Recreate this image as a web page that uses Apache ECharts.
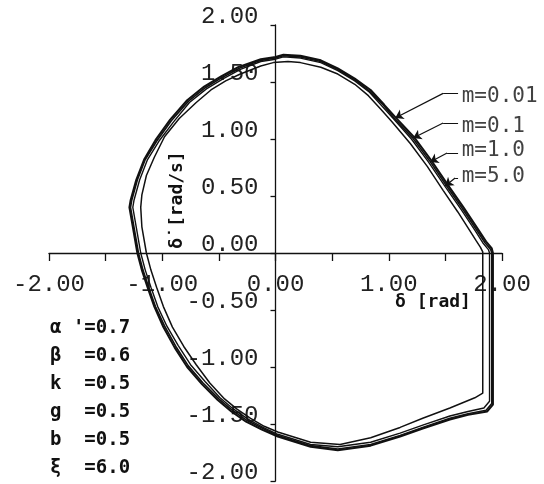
<!DOCTYPE html>
<html>
<head>
<meta charset="utf-8">
<script src="https://cdn.jsdelivr.net/npm/echarts@6/dist/echarts.min.js"></script>
<style>
  html, body { margin: 0; padding: 0; background: #fff; }
  #chart { width: 544px; height: 484px; }
</style>
</head>
<body>
<div id="chart"></div>
<script>
// tick labels shown on each axis
const xLabelTicks = [-2, -1, 0, 1, 2]
const yLabelTicks = [-2, -1.5, -1, -0.5, 0, 0.5, 1, 1.5, 2]

// phase-plane trajectories [delta, delta-dot]
const m001 = [[0.00,1.72],[0.07,1.74],[0.22,1.73],[0.40,1.69],[0.55,1.62],[0.70,1.53],[0.84,1.43],[0.96,1.30],[1.06,1.19],[1.22,1.02],[1.37,0.82],[1.52,0.60],[1.66,0.40],[1.78,0.22],[1.86,0.10],[1.91,0.04],[1.92,0.00],[1.92,-1.33],[1.87,-1.39],[1.70,-1.42],[1.54,-1.46],[1.30,-1.54],[1.10,-1.61],[0.84,-1.69],[0.55,-1.73],[0.31,-1.70],[0.02,-1.61],[-0.12,-1.55],[-0.26,-1.48],[-0.39,-1.39],[-0.51,-1.29],[-0.65,-1.15],[-0.78,-1.00],[-0.89,-0.83],[-0.99,-0.65],[-1.07,-0.47],[-1.13,-0.30],[-1.18,-0.15],[-1.22,0.00],[-1.26,0.23],[-1.29,0.40],[-1.28,0.46],[-1.23,0.64],[-1.16,0.82],[-1.06,0.99],[-0.93,1.17],[-0.78,1.34],[-0.63,1.46],[-0.48,1.55],[-0.33,1.63],[-0.13,1.70],[0.00,1.72]]
const m01 = [[0.00,1.71],[0.07,1.73],[0.22,1.72],[0.40,1.68],[0.55,1.61],[0.70,1.52],[0.83,1.42],[0.95,1.30],[1.05,1.18],[1.21,1.01],[1.36,0.81],[1.51,0.59],[1.65,0.39],[1.77,0.21],[1.85,0.09],[1.90,0.03],[1.91,0.00],[1.91,-1.32],[1.86,-1.38],[1.70,-1.41],[1.54,-1.45],[1.30,-1.53],[1.10,-1.60],[0.84,-1.68],[0.55,-1.72],[0.31,-1.69],[0.02,-1.60],[-0.11,-1.54],[-0.25,-1.47],[-0.38,-1.38],[-0.50,-1.28],[-0.64,-1.14],[-0.77,-0.99],[-0.88,-0.82],[-0.98,-0.64],[-1.06,-0.47],[-1.12,-0.30],[-1.17,-0.15],[-1.21,0.00],[-1.25,0.23],[-1.28,0.40],[-1.27,0.46],[-1.22,0.64],[-1.15,0.82],[-1.05,0.98],[-0.92,1.16],[-0.77,1.33],[-0.62,1.45],[-0.47,1.54],[-0.32,1.62],[-0.13,1.69],[0.00,1.71]]
const m10 = [[0.00,1.70],[0.07,1.72],[0.22,1.71],[0.40,1.67],[0.55,1.60],[0.70,1.51],[0.83,1.41],[0.94,1.29],[1.04,1.18],[1.20,1.00],[1.35,0.80],[1.50,0.58],[1.64,0.38],[1.76,0.20],[1.83,0.09],[1.88,0.03],[1.89,0.00],[1.89,-1.30],[1.84,-1.36],[1.70,-1.39],[1.54,-1.43],[1.30,-1.51],[1.10,-1.58],[0.84,-1.66],[0.55,-1.70],[0.31,-1.68],[0.02,-1.59],[-0.11,-1.53],[-0.24,-1.46],[-0.37,-1.37],[-0.49,-1.27],[-0.62,-1.13],[-0.75,-0.98],[-0.86,-0.81],[-0.96,-0.64],[-1.04,-0.47],[-1.10,-0.30],[-1.15,-0.15],[-1.19,0.00],[-1.23,0.23],[-1.26,0.40],[-1.25,0.46],[-1.20,0.64],[-1.13,0.82],[-1.03,0.98],[-0.90,1.15],[-0.76,1.32],[-0.61,1.44],[-0.46,1.53],[-0.31,1.61],[-0.13,1.68],[0.00,1.70]]
const m50 = [[-0.02,1.67],[0.11,1.68],[0.22,1.67],[0.40,1.63],[0.55,1.57],[0.70,1.48],[0.82,1.38],[0.93,1.26],[1.03,1.15],[1.19,0.96],[1.34,0.76],[1.48,0.55],[1.61,0.36],[1.70,0.22],[1.77,0.11],[1.81,0.05],[1.83,0.01],[1.83,-1.23],[1.76,-1.27],[1.54,-1.36],[1.30,-1.45],[1.10,-1.53],[0.84,-1.62],[0.57,-1.68],[0.31,-1.66],[0.02,-1.57],[-0.10,-1.52],[-0.22,-1.45],[-0.34,-1.37],[-0.45,-1.28],[-0.58,-1.14],[-0.70,-0.98],[-0.81,-0.82],[-0.91,-0.65],[-0.99,-0.47],[-1.05,-0.30],[-1.10,-0.15],[-1.14,0.00],[-1.18,0.23],[-1.19,0.40],[-1.18,0.51],[-1.14,0.68],[-1.07,0.84],[-0.98,1.02],[-0.85,1.18],[-0.70,1.32],[-0.57,1.43],[-0.44,1.51],[-0.31,1.57],[-0.13,1.64],[-0.02,1.67]]

// callouts: label, label anchor, elbow, arrow tip
const calloutNames = ['m=0.01', 'm=0.1', 'm=1.0', 'm=5.0']
const calloutText = [[1.64,1.37],[1.64,1.105],[1.64,0.90],[1.64,0.667]]
const calloutElbow = [[1.48,1.40],[1.48,1.14],[1.515,0.877],[1.586,0.658]]
const calloutEnd = [[1.612,1.40],[1.612,1.14],[1.612,0.877],[1.612,0.658]]
const calloutTip = [[1.057,1.184],[1.216,1.009],[1.366,0.798],[1.498,0.588]]

// parameter block
const paramLines = ["α '=0.7", 'β  =0.6', 'k  =0.5', 'g  =0.5', 'b  =0.5', 'ξ  =6.0']

const INK = '#111'
const tickFont = '"Liberation Mono", "DejaVu Sans Mono", monospace'
const boldFont = '"DejaVu Sans Mono", monospace'

// grid: 453 x 456 px, axes moved to cross at the origin
const GRID = { left: 49, right: 42, top: 25, bottom: 3 }
const gridW = 544 - GRID.left - GRID.right
const gridH = 484 - GRID.top - GRID.bottom

const chart = echarts.init(document.getElementById('chart'), null, { renderer: 'canvas' })

function curve(name, data, width) {
  return {
    name: name,
    type: 'line',
    data: data,
    symbol: 'none',
    showSymbol: false,
    lineStyle: { color: INK, width: width },
    silent: true
  }
}

chart.setOption({
  animation: false,
  backgroundColor: '#fff',
  grid: Object.assign({ containLabel: false, outerBoundsMode: 'none' }, GRID),
  xAxis: {
    type: 'value',
    min: -2, max: 2, interval: 0.5,
    offset: -gridH / 2,
    axisLine: { onZero: false, lineStyle: { color: INK, width: 1.3 } },
    axisTick: { show: true, length: 8, lineStyle: { color: INK, width: 1.3 } },
    axisLabel: {
      margin: 20,
      fontFamily: tickFont,
      fontSize: 24,
      color: '#222',
      formatter: v => xLabelTicks.some(t => Math.abs(t - v) < 1e-9) ? v.toFixed(2) : ''
    },
    splitLine: { show: false }
  },
  yAxis: {
    type: 'value',
    min: -2, max: 2, interval: 0.5,
    offset: -gridW / 2,
    axisLine: { onZero: false, lineStyle: { color: INK, width: 1.3 } },
    axisTick: { show: true, length: 5, lineStyle: { color: INK, width: 1.3 } },
    axisLabel: {
      margin: 17,
      fontFamily: tickFont,
      fontSize: 24,
      color: '#222',
      verticalAlign: 'bottom',
      lineHeight: 16,
      formatter: v => yLabelTicks.some(t => Math.abs(t - v) < 1e-9) ? v.toFixed(2) : ''
    },
    splitLine: { show: false }
  },
  series: [
    curve('m=0.01', m001, 2),
    curve('m=0.1', m01, 1.6),
    curve('m=1.0', m10, 1.4),
    curve('m=5.0', m50, 1.5),
    {
      type: 'lines',
      coordinateSystem: 'cartesian2d',
      symbol: ['none', 'none'],
      lineStyle: { color: INK, width: 1.2, opacity: 1 },
      data: calloutElbow.map((p, i) => ({ coords: [calloutEnd[i], p] })),
      silent: true
    },
    {
      type: 'lines',
      coordinateSystem: 'cartesian2d',
      symbol: ['none', 'arrow'],
      symbolSize: 8,
      lineStyle: { color: INK, width: 1.2, opacity: 1 },
      data: calloutElbow.map((p, i) => ({ coords: [p, calloutTip[i]] })),
      silent: true
    },
    {
      type: 'scatter',
      symbolSize: 1,
      itemStyle: { color: 'rgba(0,0,0,0)' },
      data: calloutText.map((p, i) => ({ value: p, name: calloutNames[i] })),
      label: {
        show: true,
        position: 'right',
        distance: 0,
        formatter: p => p.name,
        fontFamily: boldFont,
        fontSize: 21,
        color: INK
      },
      silent: true
    }
  ],
  graphic: [
    {
      type: 'text', x: 433, y: 302,
      style: { text: 'δ [rad]', font: 'bold 18px ' + boldFont, fill: INK, align: 'center', verticalAlign: 'middle' }
    },
    {
      type: 'text', x: 177, y: 200, rotation: Math.PI / 2,
      style: { text: 'δ\u0307 [rad/s]', font: 'bold 18px ' + boldFont, fill: INK, align: 'center', verticalAlign: 'middle' }
    },
    {
      type: 'text', x: 50, y: 314,
      style: { text: paramLines.join('\n'), font: 'bold 19px ' + boldFont, lineHeight: 28, fill: INK, align: 'left', verticalAlign: 'top' }
    }
  ]
})
</script>
</body>
</html>
